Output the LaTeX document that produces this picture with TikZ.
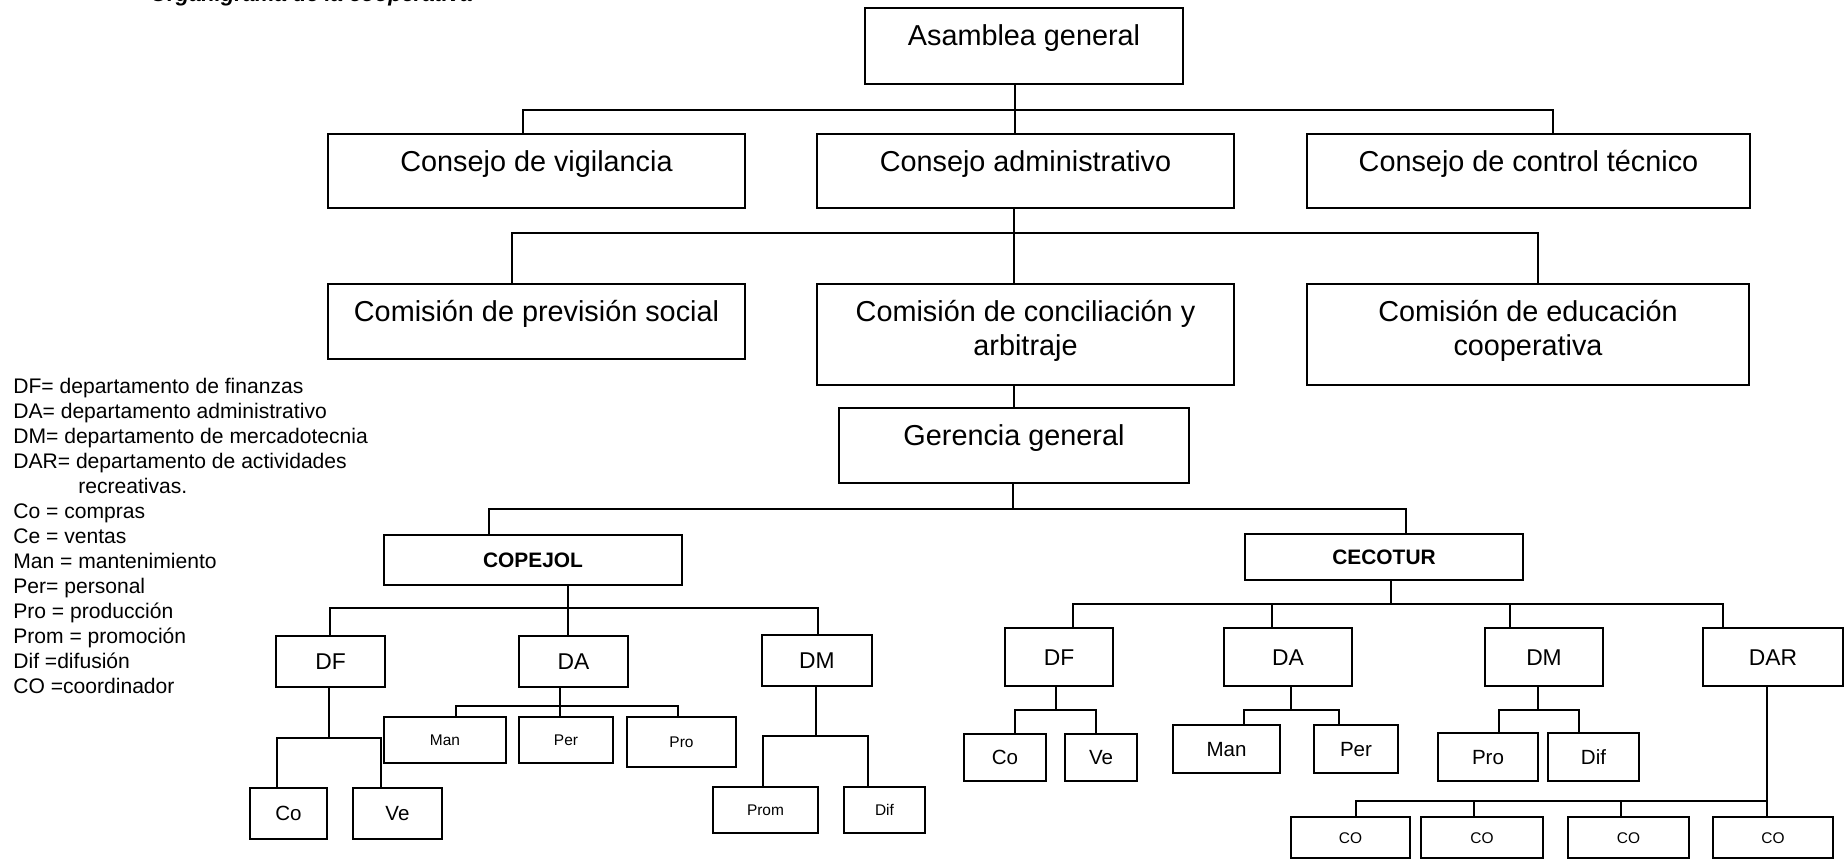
\documentclass[tikz,border=0pt]{standalone}
\usepackage{fontspec}
\setmainfont{Liberation Sans}
\usepackage{tikz}

\tikzset{
	dims/.style 2 args={minimum width=#1*0.02cm, minimum height=#2*0.02cm},
	caja/.style={draw, line width=1.1pt, inner sep=0pt},
	grande/.style={caja, font=\fontsize{16.4}{19.9}\selectfont, text height=0.3cm, text depth=0.3cm},
	doble/.style={grande, align=center, text height=0.96cm, text depth=0.1cm},
	negrita/.style={caja, font=\fontsize{11.9}{14}\selectfont\bfseries, text height=0.3cm, text depth=0pt},
	sigla/.style={caja, font=\fontsize{13}{15}\selectfont, text height=0.328cm, text depth=0pt},
	media/.style={caja, font=\fontsize{11.7}{14}\selectfont, text height=0.295cm, text depth=0pt},
	chica/.style={caja, font=\fontsize{8.8}{10}\selectfont, text height=0.222cm, text depth=0pt},
	leyenda/.style={anchor=base west, inner sep=0pt, font=\fontsize{12}{14}\selectfont},
	linea/.style={line width=1.1pt}
}

\begin{document}
\begin{tikzpicture}[x=0.02cm, y=-0.02cm]
	\path[use as bounding box] (0,0) rectangle (1847,862);
	\clip (0,0) rectangle (1847,862);

	\node[anchor=base west, inner sep=0pt, font=\fontsize{12.5}{14}\selectfont\bfseries\itshape] (titulo) at (150,1.5) {Organigrama de la cooperativa};

	% consejos y comisiones
	\node[grande, dims={318}{76}] (asam) at (1024,46) {Asamblea general};
	\node[grande, dims={417}{74}] (vigil) at (536.5,171) {Consejo de vigilancia};
	\node[grande, dims={417}{74}] (cadmin) at (1025.5,171) {Consejo administrativo};
	\node[grande, dims={443}{74}] (ctec) at (1528.5,171) {Consejo de control técnico};
	\node[grande, dims={417}{75}] (cprev) at (536.5,321.5) {Comisión de previsión social};
	\node[doble, dims={417}{101}] (cconc) at (1025.5,334.5) {Comisión de conciliación y\\arbitraje};
	\node[doble, dims={442}{101}] (cedu) at (1528,334.5) {Comisión de educación\\cooperativa};
	\node[grande, dims={350}{75}] (geren) at (1014,445.5) {Gerencia general};

	\node[negrita, dims={298}{50}] (copejol) at (533,560) {COPEJOL};
	\node[negrita, dims={278}{46}] (cecotur) at (1384,557) {CECOTUR};

	% COPEJOL
	\node[sigla, dims={109}{51}] (cdf) at (330.5,661.5) {DF};
	\node[sigla, dims={109}{51}] (cda) at (573.5,661.5) {DA};
	\node[sigla, dims={110}{51}] (cdm) at (817,660.5) {DM};
	\node[media, dims={77}{51}] (cco) at (288.5,813.5) {Co};
	\node[media, dims={89}{51}] (cve) at (397.5,813.5) {Ve};
	\node[chica, dims={122}{46}] (cman) at (445,740) {Man};
	\node[chica, dims={94}{46}] (cper) at (566,740) {Per};
	\node[chica, dims={109}{50}] (cpro) at (681.5,742) {Pro};
	\node[chica, dims={105}{46}] (cprom) at (765.5,810) {Prom};
	\node[chica, dims={81}{46}] (cdif) at (884.5,810) {Dif};

	% CECOTUR
	\node[sigla, dims={108}{58}] (edf) at (1059,657) {DF};
	\node[sigla, dims={128}{58}] (eda) at (1288,657) {DA};
	\node[sigla, dims={118}{58}] (edm) at (1544,657) {DM};
	\node[sigla, dims={140}{58}] (edar) at (1773,657) {DAR};
	\node[media, dims={82}{47}] (eco) at (1005,757.5) {Co};
	\node[media, dims={72}{47}] (eve) at (1101,757.5) {Ve};
	\node[media, dims={107}{48}] (eman) at (1226.5,749) {Man};
	\node[media, dims={84}{48}] (eper) at (1356,749) {Per};
	\node[media, dims={100}{48}] (epro) at (1488,757) {Pro};
	\node[media, dims={91}{48}] (edif) at (1593.5,757) {Dif};
	\node[chica, dims={119}{41}] (co1) at (1350.5,837.5) {CO};
	\node[chica, dims={122}{41}] (co2) at (1482,837.5) {CO};
	\node[chica, dims={121}{41}] (co3) at (1628.5,837.5) {CO};
	\node[chica, dims={120}{41}] (co4) at (1773,837.5) {CO};

	% lineas
	\coordinate (b1l) at (523,110);
	\coordinate (b1m) at (1015,110);
	\coordinate (b1r) at (1553,110);
	\draw[linea] (b1l |- vigil.north) -- (b1l) -- (b1r) -- (b1r |- ctec.north);
	\draw[linea] (asam.south -| b1m) -- (b1m |- cadmin.north);

	\coordinate (b2l) at (512,233);
	\coordinate (b2m) at (1014,233);
	\coordinate (b2r) at (1538,233);
	\draw[linea] (b2l |- cprev.north) -- (b2l) -- (b2r) -- (b2r |- cedu.north);
	\draw[linea] (cadmin.south -| b2m) -- (b2m |- cconc.north);
	\draw[linea] (cconc.south -| b2m) -- (b2m |- geren.north);

	\coordinate (b3l) at (489,509);
	\coordinate (b3m) at (1013,509);
	\coordinate (b3r) at (1406,509);
	\draw[linea] (b3l |- copejol.north) -- (b3l) -- (b3r) -- (b3r |- cecotur.north);
	\draw[linea] (geren.south -| b3m) -- (b3m);

	\coordinate (cbl) at (330,608);
	\coordinate (cbm) at (568,608);
	\coordinate (cbr) at (818,608);
	\draw[linea] (cbl |- cdf.north) -- (cbl) -- (cbr) -- (cbr |- cdm.north);
	\draw[linea] (copejol.south -| cbm) -- (cbm |- cda.north);

	\coordinate (dfl) at (277,738);
	\coordinate (dfm) at (329,738);
	\coordinate (dfr) at (381,738);
	\draw[linea] (cdf.south -| dfm) -- (dfm);
	\draw[linea] (dfl |- cco.north) -- (dfl) -- (dfr) -- (dfr |- cve.north);

	\coordinate (dal) at (456,706);
	\coordinate (dam) at (560,706);
	\coordinate (dar) at (678,706);
	\draw[linea] (cda.south -| dam) -- (dam |- cper.north);
	\draw[linea] (dal |- cman.north) -- (dal) -- (dar) -- (dar |- cpro.north);

	\coordinate (dml) at (763,736);
	\coordinate (dmm) at (816,736);
	\coordinate (dmr) at (868,736);
	\draw[linea] (cdm.south -| dmm) -- (dmm);
	\draw[linea] (dml |- cprom.north) -- (dml) -- (dmr) -- (dmr |- cdif.north);

	\coordinate (ebl) at (1073,604);
	\coordinate (ebm) at (1391,604);
	\coordinate (eb2) at (1272,604);
	\coordinate (eb3) at (1510,604);
	\coordinate (ebr) at (1723,604);
	\draw[linea] (ebl |- edf.north) -- (ebl) -- (ebr) -- (ebr |- edar.north);
	\draw[linea] (cecotur.south -| ebm) -- (ebm);
	\draw[linea] (eb2) -- (eb2 |- eda.north);
	\draw[linea] (eb3) -- (eb3 |- edm.north);

	\coordinate (efl) at (1015,710);
	\coordinate (efm) at (1056,710);
	\coordinate (efr) at (1096,710);
	\draw[linea] (edf.south -| efm) -- (efm);
	\draw[linea] (efl |- eco.north) -- (efl) -- (efr) -- (efr |- eve.north);

	\coordinate (eal) at (1244,710);
	\coordinate (eam) at (1291,710);
	\coordinate (ear) at (1339,710);
	\draw[linea] (eda.south -| eam) -- (eam);
	\draw[linea] (eal |- eman.north) -- (eal) -- (ear) -- (ear |- eper.north);

	\coordinate (eml) at (1499,710);
	\coordinate (emm) at (1538,710);
	\coordinate (emr) at (1579,710);
	\draw[linea] (edm.south -| emm) -- (emm);
	\draw[linea] (eml |- epro.north) -- (eml) -- (emr) -- (emr |- edif.north);

	\coordinate (col) at (1356,801);
	\coordinate (co2b) at (1474,801);
	\coordinate (co3b) at (1621,801);
	\coordinate (cor) at (1767,801);
	\draw[linea] (edar.south -| cor) -- (cor |- co4.north);
	\draw[linea] (col |- co1.north) -- (col) -- (cor);
	\draw[linea] (co2b) -- (co2b |- co2.north);
	\draw[linea] (co3b) -- (co3b |- co3.north);

	% abreviaturas
	\node[leyenda] (ley1) at (13,393.3) {DF= departamento de finanzas};
	\node[leyenda] (ley2) at (13,418.3) {DA= departamento administrativo};
	\node[leyenda] (ley3) at (13,443.3) {DM= departamento de mercadotecnia};
	\node[leyenda] (ley4) at (13,468.3) {DAR= departamento de actividades};
	\node[leyenda] (ley5) at (78,493.3) {recreativas.};
	\node[leyenda] (ley6) at (13,518.3) {Co = compras};
	\node[leyenda] (ley7) at (13,543.3) {Ce = ventas};
	\node[leyenda] (ley8) at (13,568.3) {Man = mantenimiento};
	\node[leyenda] (ley9) at (13,593.3) {Per= personal};
	\node[leyenda] (ley10) at (13,618.3) {Pro = producción};
	\node[leyenda] (ley11) at (13,643.3) {Prom = promoción};
	\node[leyenda] (ley12) at (13,668.3) {Dif =difusión};
	\node[leyenda] (ley13) at (13,693.3) {CO =coordinador};
\end{tikzpicture}
\end{document}
